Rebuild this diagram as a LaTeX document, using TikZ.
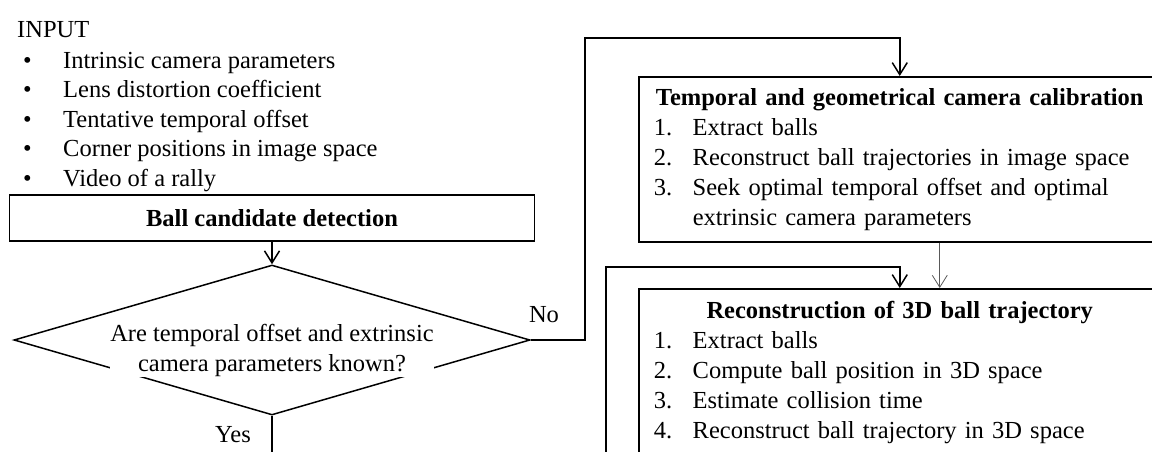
\documentclass[tikz,border=0pt]{standalone}
\usepackage{fontspec}
\setmainfont{Liberation Serif}
\usepackage{tikz}
\usetikzlibrary{arrows.meta,shapes.geometric}
\newcommand{\stepitem}[2]{\makebox[492pt][l]{\makebox[39pt][l]{#1}#2}}
\newcommand{\inputitem}[1]{\makebox[40pt][l]{•}#1}

\begin{document}
\begin{tikzpicture}[x=1pt,y=-1pt,
every node/.style={font=\fontsize{24.5}{30}\selectfont},
listline/.style={anchor=base west,inner sep=0pt},
procbox/.style={draw,line width=1.5pt,inner sep=0pt},
flow/.style={line width=1.5pt,-{Straight Barb[length=12pt,width=15pt]}},
thinflow/.style={line width=0.8pt,draw=black!65,-{Straight Barb[length=12pt,width=15pt]}}]
\useasboundingbox (0,0) rectangle (1152,451);
\clip (0,0) rectangle (1152,451);
\node[listline] (input) at (17,37) {INPUT};
\node[listline] (in1) at (23,68) {\inputitem{Intrinsic camera parameters}};
\node[listline] (in2) at (23,97.5) {\inputitem{Lens distortion coefficient}};
\node[listline] (in3) at (23,127) {\inputitem{Tentative temporal offset}};
\node[listline] (in4) at (23,156.5) {\inputitem{Corner positions in image space}};
\node[listline] (in5) at (23,186) {\inputitem{Video of a rally}};
\node[procbox,minimum width=525pt,minimum height=46pt] (detect) at (272,218) {\bfseries Ball candidate detection};
\node[draw,diamond,line width=1.5pt,minimum width=516pt,minimum height=150pt,inner sep=0pt] (known) at (272,340) {};
\node[fill=white,inner sep=0.5pt,align=center] (ask) at (272,350) {Are temporal offset and extrinsic\\camera parameters known?};
\node (no) at (544,315) {No};
\node (yes) at (233,435) {Yes};
\node[procbox,anchor=north west,minimum height=165pt,text width=492pt,align=center,inner xsep=15pt] (calib) at (638,76) {\textbf{Temporal and geometrical camera calibration}\\
\stepitem{1.}{Extract balls}\\
\stepitem{2.}{Reconstruct ball trajectories in image space}\\
\stepitem{3.}{Seek optimal temporal offset and optimal}\\
\stepitem{}{extrinsic camera parameters}};
\node[procbox,anchor=north west,minimum height=168pt,text width=492pt,align=center,inner xsep=15pt] (recon) at (638,288) {\textbf{Reconstruction of 3D ball trajectory}\\
\stepitem{1.}{Extract balls}\\
\stepitem{2.}{Compute ball position in 3D space}\\
\stepitem{3.}{Estimate collision time}\\
\stepitem{4.}{Reconstruct ball trajectory in 3D space}};
\coordinate (noturn) at (585,38);
\coordinate (loopin) at (606,480);
\coordinate (loopturn) at (606,267);
\coordinate (yesout) at (272,480);
\draw[flow] (detect) -- (known);
\draw[flow] (known.east) -| (noturn) -| (calib.north);
\draw[thinflow] ([xshift=40pt]calib.south) -- ([xshift=40pt]recon.north);
\draw[flow] (loopin) -- (loopturn) -| (recon.north);
\draw[line width=1.5pt] (known.south) -- (yesout);
\end{tikzpicture}
\end{document}
